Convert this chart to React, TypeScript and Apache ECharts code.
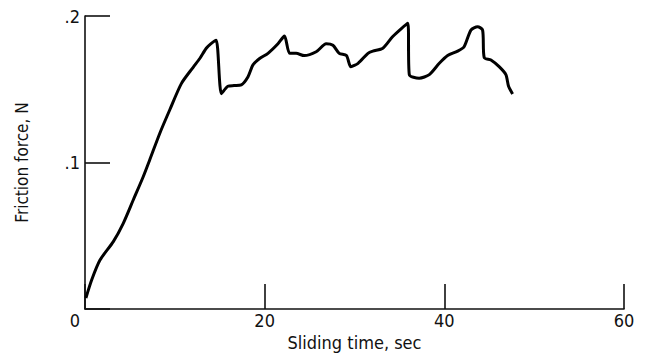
import React, { useEffect, useRef } from "react";
import * as echarts from "echarts";

const timeSec: number[] = [
  0.1, 0.74, 1.67, 3.15, 4.26, 5.37, 6.48, 7.2, 8.33, 9.44, 10.74, 12.04, 12.78, 13.5, 14.0, 14.6,
  15.19, 15.9, 16.6, 17.4, 18.15, 18.7, 19.44, 20.37, 21.48, 22.2, 22.78, 23.5, 24.4, 25.74,
  26.85, 27.6, 28.3, 29.1, 29.6, 30.4, 31.5, 32.04, 33.15, 34.26, 35.93, 36.1, 37.2, 38.33,
  39.44, 40.37, 41.48, 42.2, 42.96, 43.7, 44.26, 44.44, 45.19, 46.1, 46.85, 47.15, 47.6,
];
const frictionN: number[] = [
  0.0075, 0.0198, 0.0334, 0.046, 0.0585, 0.0744, 0.0903, 0.1017, 0.12, 0.136, 0.154, 0.165, 0.171, 0.178, 0.181, 0.1835,
  0.147, 0.152, 0.1525, 0.153, 0.1586, 0.1666, 0.171, 0.1745, 0.181, 0.1863, 0.1745, 0.1745, 0.173, 0.1756,
  0.181, 0.18, 0.1745, 0.173, 0.1654, 0.1677, 0.1745, 0.176, 0.178, 0.186, 0.195, 0.16, 0.1575, 0.16,
  0.1677, 0.173, 0.176, 0.179, 0.1904, 0.1927, 0.1904, 0.1716, 0.17, 0.1654, 0.16, 0.152, 0.1468,
];
const yTickLabels: Record<string, string> = { "0.1": ".1", "0.2": ".2" };

const FONT = "'Liberation Sans Narrow', 'DejaVu Sans Condensed', 'Liberation Sans', sans-serif";

export default function App() {
  const ref = useRef<HTMLDivElement>(null);
  useEffect(() => {
    if (!ref.current) return;
    const chart = echarts.init(ref.current, undefined, { renderer: "svg" });
    const data = timeSec.map((t, i) => [t, frictionN[i]]);
    chart.setOption({
      animation: false,
      backgroundColor: "#ffffff",
      grid: { left: 85, right: 24, top: 16, bottom: 44, containLabel: false, outerBoundsMode: "none" },
      xAxis: {
        type: "value",
        min: 0,
        max: 60,
        interval: 20,
        name: "Sliding time, sec",
        nameLocation: "middle",
        nameGap: 21,
        nameTextStyle: { color: "#111", fontFamily: FONT, fontSize: 18 },
        axisLine: { show: true, onZero: false, lineStyle: { color: "#111", width: 1.6 } },
        axisTick: { show: true, inside: true, length: 25, lineStyle: { color: "#111", width: 1.6 } },
        splitLine: { show: false },
        axisLabel: {
          color: "#111",
          fontFamily: FONT,
          fontSize: 18,
          margin: 2,
          formatter: (v: number) => (v === 0 ? "{zero|0}" : String(v)),
          rich: { zero: { padding: [0, 20, 0, 0], fontFamily: FONT, fontSize: 18, color: "#111" } },
        },
      },
      yAxis: {
        type: "value",
        min: 0,
        max: 0.2,
        interval: 0.1,
        name: "Friction force, N",
        nameLocation: "middle",
        nameGap: 55,
        nameRotate: 90,
        nameTextStyle: { color: "#111", fontFamily: FONT, fontSize: 17 },
        axisLine: { show: true, lineStyle: { color: "#111", width: 1.6 } },
        axisTick: { show: true, inside: true, length: 25, lineStyle: { color: "#111", width: 1.6 } },
        splitLine: { show: false },
        axisLabel: {
          color: "#111",
          fontFamily: FONT,
          fontSize: 18,
          margin: 5,
          padding: [8, 0, 0, 0],
          formatter: (v: number) => yTickLabels[String(Math.round(v * 10) / 10)] ?? "",
        },
      },
      series: [
        {
          type: "line",
          data,
          showSymbol: false,
          smooth: 0.25,
          lineStyle: { color: "#000", width: 3 },
        },
      ],
    });
    return () => chart.dispose();
  }, []);
  return (
    <div
      ref={ref}
      style={{ position: "fixed", left: 0, top: 0, width: 648, height: 353, background: "#fff" }}
    />
  );
}
